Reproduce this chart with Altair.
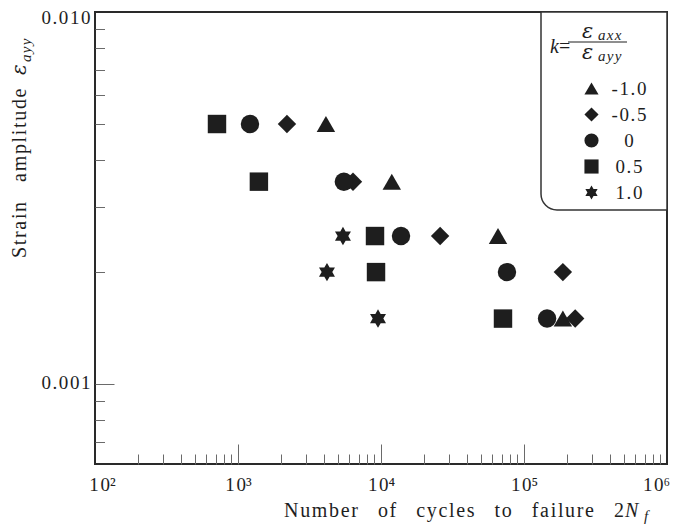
import altair as alt
import pandas as pd

# ---------------- data ----------------
k_values = ["-1.0", "-0.5", "0", "0.5", "1.0"]

cycles_m10 = [4120, 11900, 65800, 187000]
strain_m10 = [0.005, 0.0035, 0.0025, 0.0015]

cycles_m05 = [2200, 6370, 25900, 187000, 228000]
strain_m05 = [0.005, 0.0035, 0.0025, 0.002, 0.0015]

cycles_00 = [1213, 5500, 13800, 76000, 145000]
strain_00 = [0.005, 0.0035, 0.0025, 0.002, 0.0015]

cycles_05 = [713, 1400, 9080, 9230, 71300]
strain_05 = [0.005, 0.0035, 0.0025, 0.002, 0.0015]

cycles_10 = [5420, 4190, 9530]
strain_10 = [0.0025, 0.002, 0.0015]

x_label_values = [100, 1000, 10000, 100000, 1000000]
x_tick_values = [200, 300, 400, 500, 600, 700, 800, 900, 1000,
                 2000, 3000, 4000, 5000, 6000, 7000, 8000, 9000, 10000,
                 20000, 30000, 40000, 50000, 60000, 70000, 80000, 90000, 100000,
                 200000, 300000, 400000, 500000, 600000, 700000, 800000, 900000]
y_label_values = [0.001, 0.01]
y_tick_values = [0.0007, 0.0008, 0.0009, 0.001,
                 0.002, 0.003, 0.004, 0.005, 0.006, 0.007, 0.008, 0.009]

rows = []
for k, cs, ss in [("-1.0", cycles_m10, strain_m10), ("-0.5", cycles_m05, strain_m05),
                  ("0", cycles_00, strain_00), ("0.5", cycles_05, strain_05),
                  ("1.0", cycles_10, strain_10)]:
    for c, s in zip(cs, ss):
        rows.append({"k": k, "cycles": c, "strain": s})
df = pd.DataFrame(rows)
one = pd.DataFrame({"a": [0]})

# ---------------- style ----------------
W, H = 572, 452
FONT = "Liberation Serif"
EPS_FONT = "DejaVu Serif"
INK = "#1e1e1e"
HAIR = "\u200a"
WORD = "\u2003"
EPS = "\u03b5"


def track(s, word=WORD):
    return word.join(HAIR.join(w) for w in s.split(" "))


STAR = ("M0,-1L0.289,-0.5L0.866,-0.5L0.577,0L0.866,0.5L0.289,0.5L0,1"
        "L-0.289,0.5L-0.866,0.5L-0.577,0L-0.866,-0.5L-0.289,-0.5Z")
shapes = ["triangle-up", "diamond", "circle", "square", STAR]

xscale = alt.Scale(type="log", domain=[100, 1000000], nice=False)
yscale = alt.Scale(type="log", domain=[0.00061, 0.01], nice=False)

sup = "['\u00b2','\u00b3','\u2074','\u2075','\u2076']"
x_axis = alt.Axis(orient="bottom", values=x_label_values, ticks=False, domain=False,
                  grid=False, title=None,
                  labelExpr="'1" + HAIR + "0' + " + sup + "[round(log(datum.value)/LN10) - 2]",
                  labelFont=FONT, labelFontSize=19, labelColor=INK, labelPadding=11,
                  labelFlush=False, labelOverlap=False,
                  labelOffset={"condition": [{"test": "datum.value == 100", "value": 7},
                                             {"test": "datum.value == 1000000", "value": -11}],
                               "value": 0})
y_axis = alt.Axis(orient="left", values=y_label_values, ticks=False, domain=False,
                  grid=False, title=None,
                  labelExpr="datum.value < 0.005 ? '" + track("0.001") + "' : '" + track("0.010") + "'",
                  labelFont=FONT, labelFontSize=19, labelColor=INK, labelPadding=5,
                  labelOverlap=False, labelFlush=False,
                  labelOffset={"condition": {"test": "datum.value == 0.01", "value": 5},
                               "value": -2})

major_test_x = "datum.value == 1000 || datum.value == 10000 || datum.value == 100000"
x_tick_axis = alt.Axis(orient="top", offset=-H, values=x_tick_values, labels=False,
                       domain=False, grid=False, title=None, tickColor="#6a6a6a", tickWidth=1,
                       tickSize={"condition": {"test": major_test_x, "value": 20}, "value": 10})
y_tick_axis = alt.Axis(orient="right", offset=-W, values=y_tick_values, labels=False,
                       domain=False, grid=False, title=None, tickColor="#6a6a6a", tickWidth=1,
                       tickSize={"condition": {"test": "datum.value == 0.001", "value": 19},
                                 "value": 9.5})

legend = alt.Legend(title=None, orient="none", legendX=487, legendY=67,
                    symbolSize=200, symbolStrokeWidth=0, symbolFillColor=INK,
                    symbolOpacity=1, labelFont=FONT, labelFontSize=19, labelColor=INK,
                    labelAlign="center", labelOffset=28, rowPadding=6, padding=0,
                    labelLimit=0,
                    labelExpr="{'-1.0':'" + track("-1.0") + "','-0.5':'" + track("-0.5")
                              + "','0':'0','0.5':'" + track("0.5") + "','1.0':'" + track("1.0")
                              + "'}[datum.label]")

box = alt.Chart(one).mark_rect(fill="white", stroke="#333", strokeWidth=1.5,
                               cornerRadiusBottomLeft=16).encode(
    x=alt.value(446), x2=alt.value(W), y=alt.value(0), y2=alt.value(198))

points = alt.Chart(df).mark_point(filled=True, size=340, color=INK, opacity=1,
                                  strokeWidth=0).encode(
    x=alt.X("cycles:Q", scale=xscale, axis=x_axis),
    y=alt.Y("strain:Q", scale=yscale, axis=y_axis),
    shape=alt.Shape("k:N", scale=alt.Scale(domain=k_values, range=shapes), legend=legend),
)

tick_layer = alt.Chart(df).mark_point(opacity=0).encode(
    x=alt.X("cycles:Q", scale=xscale, axis=x_tick_axis),
    y=alt.Y("strain:Q", scale=yscale, axis=y_tick_axis),
)


def txt(t, x, y, size=19, italic=False, angle=None, align="left", font=FONT):
    kw = dict(font=font, fontSize=size, color=INK, align=align, baseline="alphabetic", text=t)
    if italic:
        kw["fontStyle"] = "italic"
    if angle is not None:
        kw["angle"] = angle
    return alt.Chart(one).mark_text(**kw).encode(x=alt.value(x), y=alt.value(y))


texts = [
    # x title
    txt(track("Number of cycles to failure 2"), 529, 505, size=20, align="right"),
    txt("N", 530, 505, size=20, italic=True),
    txt("f", 549, 509, size=15, italic=True),
    # y title
    txt(track("Strain amplitude"), -69, 246, size=20, angle=270),
    txt(EPS, -69, 63, size=20, italic=True, angle=270, font=EPS_FONT),
    txt(track("ayy"), -64, 50, size=15, italic=True, angle=270),
    # legend title k = eps_axx / eps_ayy
    txt("k", 455, 41, size=20, italic=True),
    txt("=", 464, 41, size=20),
    txt(EPS, 487, 26, size=21, italic=True, font=EPS_FONT),
    txt(track("axx"), 503, 28, size=15, italic=True),
    txt(EPS, 487, 47, size=21, italic=True, font=EPS_FONT),
    txt(track("ayy"), 503, 49, size=15, italic=True),
]
frac = alt.Chart(one).mark_rule(color=INK, strokeWidth=1).encode(
    x=alt.value(473), x2=alt.value(532), y=alt.value(30))

chart = alt.layer(box, tick_layer, points, frac, *texts).resolve_axis(
    x="independent", y="independent"
).properties(
    width=W, height=H,
    autosize=alt.AutoSizeParams(type="none"),
    padding={"left": 87, "top": 4, "right": 5, "bottom": 60},
).configure_view(stroke="#2a2a2a", strokeWidth=2)

chart.save("out.html", embed_options={"renderer": "svg", "actions": False})
